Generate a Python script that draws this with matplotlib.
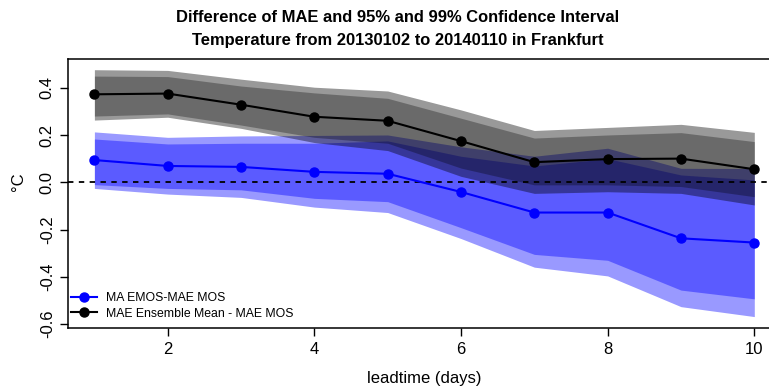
import matplotlib
matplotlib.use("Agg")
import matplotlib.pyplot as plt
from matplotlib.lines import Line2D
import numpy as np

plt.rcParams['font.family'] = ['Liberation Sans', 'DejaVu Sans']

leadtime = [1, 2, 3, 4, 5, 6, 7, 8, 9, 10]

# MA EMOS - MAE MOS (blue)
emos_mean = [0.094, 0.069, 0.065, 0.044, 0.036, -0.041, -0.128, -0.128, -0.237, -0.255]
emos_up99 = [0.213, 0.190, 0.196, 0.198, 0.200, 0.150, 0.110, 0.144, 0.059, 0.058]
emos_up95 = [0.183, 0.162, 0.165, 0.165, 0.175, 0.110, 0.069, 0.100, 0.031, 0.010]
emos_lo95 = [-0.010, -0.026, -0.032, -0.068, -0.082, -0.192, -0.305, -0.330, -0.456, -0.493]
emos_lo99 = [-0.026, -0.050, -0.064, -0.105, -0.128, -0.238, -0.359, -0.396, -0.526, -0.568]

# MAE Ensemble Mean - MAE MOS (black)
ens_mean = [0.372, 0.375, 0.328, 0.277, 0.260, 0.174, 0.085, 0.098, 0.100, 0.055]
ens_up99 = [0.476, 0.473, 0.436, 0.402, 0.386, 0.306, 0.219, 0.232, 0.245, 0.211]
ens_up95 = [0.449, 0.447, 0.407, 0.378, 0.355, 0.271, 0.187, 0.200, 0.210, 0.172]
ens_lo95 = [0.280, 0.289, 0.242, 0.190, 0.165, 0.060, -0.011, -0.011, -0.018, -0.061]
ens_lo99 = [0.263, 0.275, 0.228, 0.168, 0.134, 0.025, -0.047, -0.040, -0.047, -0.096]

legend_labels = ["MA EMOS-MAE MOS", "MAE Ensemble Mean - MAE MOS"]
title_lines = ["Difference of MAE and 95% and 99% Confidence Interval",
               "Temperature from 20130102 to 20140110 in Frankfurt"]
xticks = [2, 4, 6, 8, 10]
yticks = [-0.6, -0.4, -0.2, 0.0, 0.2, 0.4]

W, H = 769, 388
fig = plt.figure(figsize=(W / 100, H / 100), dpi=100)
left_px, right_px, top_px, bot_px = 68.0, 780.7, 59.3, 327.7
ax = fig.add_axes([left_px / W, 1 - bot_px / H, (right_px - left_px) / W, (bot_px - top_px) / H])

# blue bands
ax.fill_between(leadtime, emos_lo99, emos_up99, color='#0000FF', alpha=0.4, lw=0)
ax.fill_between(leadtime, emos_lo95, emos_up95, color='#0000FF', alpha=0.4, lw=0)
# black bands
ax.fill_between(leadtime, ens_lo99, ens_up99, color='black', alpha=0.4, lw=0)
ax.fill_between(leadtime, ens_lo95, ens_up95, color='black', alpha=0.3, lw=0)

ax.axhline(0, color='black', lw=1.3, dashes=(3, 3), zorder=3)

ax.plot(leadtime, emos_mean, color='#0000FF', lw=1.5, marker='o', ms=6.5, zorder=4)
ax.plot(leadtime, ens_mean, color='black', lw=1.5, marker='o', ms=6.5, zorder=4)

ax.set_xlim(0.64, 10.36)
ax.set_ylim(-0.615, 0.520)
ax.set_xticks(xticks)
ax.set_xticklabels([str(v) for v in xticks])
ax.set_yticks(yticks)
ax.set_yticklabels(["%.1f" % v for v in yticks], rotation=90, va='center')
ax.tick_params(axis='both', direction='out', length=6, width=1.0, labelsize=12, color='black')
ax.tick_params(axis='x', pad=4)
ax.tick_params(axis='y', pad=3.5)
for s in ax.spines.values():
    s.set_linewidth(1.1)

fig.text(424 / W, 1 - 378 / H, "leadtime (days)", ha='center', va='center', fontsize=12)
fig.text(18 / W, 1 - 182 / H, "°C", ha='center', va='center', rotation=90, fontsize=12)
fig.text(398 / W, 1 - 17.7 / H, title_lines[0], ha='center', va='center', fontsize=11.9, fontweight='bold')
fig.text(398 / W, 1 - 40 / H, title_lines[1], ha='center', va='center', fontsize=11.9, fontweight='bold')

handles = [Line2D([], [], color='#0000FF', lw=1.5, marker='o', ms=6.5),
           Line2D([], [], color='black', lw=1.5, marker='o', ms=6.5)]
fig.legend(handles, legend_labels, loc='center left',
           bbox_to_anchor=(71.0 / W, 1 - 305.8 / H), frameon=False, fontsize=8.8,
           handlelength=2.1, handletextpad=0.75, labelspacing=0.3, borderpad=0, borderaxespad=0)

fig.savefig("out.png", dpi=100)
